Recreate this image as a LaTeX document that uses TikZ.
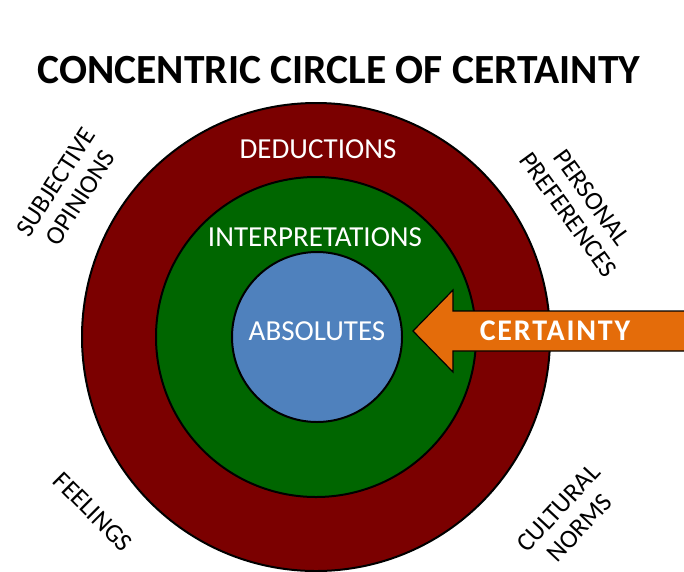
\documentclass[tikz,border=0pt]{standalone}
\usepackage{fontspec}
\setmainfont{Carlito}
\newfontfamily\trackedbold[LetterSpace=6.0]{Carlito Bold}
\definecolor{ringred}{HTML}{7B0000}
\definecolor{ringgreen}{HTML}{006600}
\definecolor{coreblue}{HTML}{4F81BD}
\definecolor{arroworange}{HTML}{E46C0A}
\begin{document}
\begin{tikzpicture}[x=1pt,y=-1pt,
  ring/.style={circle, draw=black, line width=2pt, inner sep=0pt},
  ringlabel/.style={text=white, font=\fontsize{29}{32}\selectfont},
  sidelabel/.style={text=black, align=center, font=\fontsize{26}{29}\selectfont}]
  \useasboundingbox (0,0) rectangle (684,571);
  \clip (0,0) rectangle (684,571);
  % rings
  \node[ring, fill=ringred, minimum size=468pt] (outer) at (316,337) {};
  \node[ring, fill=ringgreen, minimum size=320pt] (middle) at (316,337) {};
  \node[ring, fill=coreblue, minimum size=170pt] (core) at (317,337) {};
  % ring labels
  \node[ringlabel] (ded) at (318,149) {DEDUCTIONS};
  \node[ringlabel] (interp) at (315,237) {INTERPRETATIONS};
  \node[ringlabel] (abs) at (317,331) {ABSOLUTES};
  % title
  \node[font=\bfseries\fontsize{41.5}{44}\selectfont] (title) at (339,70) {CONCENTRIC CIRCLE OF CERTAINTY};
  % certainty arrow
  \coordinate (tip) at (413,331);
  \draw[fill=arroworange, line width=1.2pt, line join=miter]
    (tip) -- (453,290) -- (453,311) -- (690,311) -- (690,351) -- (453,351) -- (453,372) -- cycle;
  \node[text=white, font=\trackedbold\fontsize{30}{32}\selectfont] (cert) at (555,331) {CERTAINTY};
  % surrounding labels
  \node[sidelabel, rotate=57] (subj) at (68,190) {SUBJECTIVE\\OPINIONS};
  \node[sidelabel, rotate=-54] (pers) at (580,206) {PERSONAL\\PREFERENCES};
  \node[sidelabel, rotate=-45] (feel) at (93,512) {FEELINGS};
  \node[sidelabel, rotate=47] (cult) at (569,518) {CULTURAL\\NORMS};
\end{tikzpicture}
\end{document}
